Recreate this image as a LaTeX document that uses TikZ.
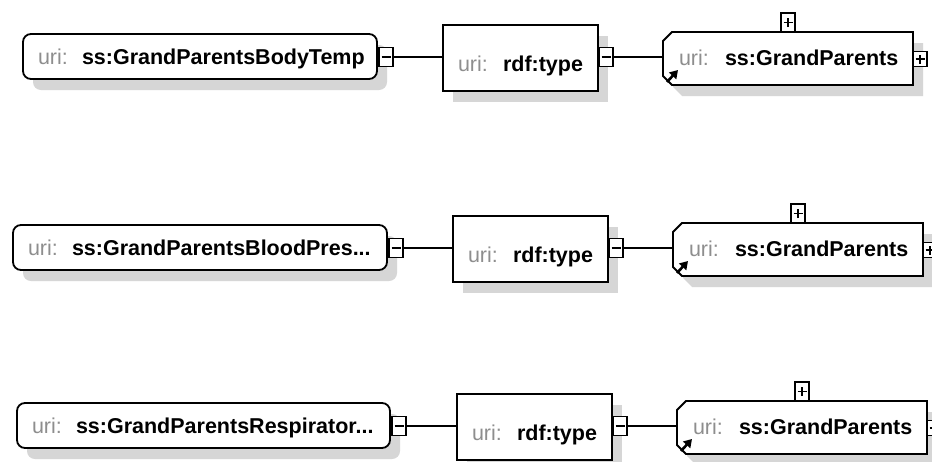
\documentclass[tikz,border=0pt]{standalone}
\usepackage{fontspec}
\setmainfont{Liberation Sans}
\usetikzlibrary{arrows.meta,shadows,calc}
\definecolor{shadowc}{HTML}{D6D6D6}
\definecolor{urigray}{HTML}{8E8E8E}
\tikzset{
  every node/.style={inner sep=0pt,outer sep=0pt},
  boxshadow/.style={drop shadow={shadow xshift=10pt,shadow yshift=-11pt,fill=shadowc,opacity=1}},
  resbox/.style={draw=black,line width=1.8pt,fill=white,rounded corners=8pt,boxshadow,minimum height=45pt},
  propbox/.style={draw=black,line width=1.8pt,fill=white,boxshadow,minimum width=155pt,minimum height=66pt},
  classarea/.style={minimum width=250pt,minimum height=53pt},
  outline/.style={draw=black,line width=1.8pt,fill=white},
  togglebox/.style={draw=black,line width=1.4pt,fill=white,minimum width=14pt,minimum height=19pt},
  minusbox/.style={togglebox,path picture={\draw[line width=1.4pt] ([xshift=-4.5pt]path picture bounding box.center) -- ([xshift=4.5pt]path picture bounding box.center);}},
  plusbox/.style={togglebox,path picture={
     \draw[line width=1.4pt] ([xshift=-4.5pt]path picture bounding box.center) -- ([xshift=4.5pt]path picture bounding box.center);
     \draw[line width=1.4pt] ([yshift=-4.5pt]path picture bounding box.center) -- ([yshift=4.5pt]path picture bounding box.center);}},
  link/.style={draw=black,line width=1.5pt},
  uritxt/.style={anchor=base west,text=urigray,font=\fontsize{21.5}{25}\selectfont},
  idtxt/.style={anchor=base west,text=black,font=\fontsize{21.5}{25}\selectfont\bfseries},
  jump/.style={line width=2.6pt,-{Triangle[length=8pt,width=9.5pt]}},
}
\begin{document}
\begin{tikzpicture}[x=1pt,y=-1pt]
\useasboundingbox (0,0) rectangle (932,461);
\clip (0,0) rectangle (932,461);
\fill[white] (0,0) rectangle (932,461);
\foreach \rw/\cy/\lx/\rx/\px/\gx/\txt in {1/57/23/377/443/663/{ss:GrandParentsBodyTemp},2/248/13/387/453/673/{ss:GrandParentsBloodPres...},3/426/17/390/457/677/{ss:GrandParentsRespirator...}}{
  % resource node
  \node[resbox,minimum width={(\rx-\lx)*1pt}] (a\rw) at ({(\lx+\rx)/2},\cy-0.5) {};
  \node[uritxt] (au\rw) at (\lx+15,\cy+7.5) {uri:};
  \node[idtxt] (an\rw) at (\lx+59,\cy+7.5) {\txt};
  \node[minusbox,anchor=west] (am\rw) at (\rx+2,\cy) {};
  % property node
  \node[propbox] (b\rw) at (\px+77.5,\cy+1) {};
  \node[uritxt] (bu\rw) at (\px+15,\cy+14) {uri:};
  \node[idtxt] (bn\rw) at (\px+60,\cy+14) {rdf:type};
  \node[minusbox,anchor=west] (bm\rw) at (\px+156,\cy) {};
  % class node
  \node[classarea] (g\rw) at (\gx+125,\cy+1.5) {};
  \fill[shadowc] ($(g\rw.north west)+(10,20)$) -- ($(g\rw.north west)+(19,11)$) -- ($(g\rw.north east)+(10,11)$)
     -- ($(g\rw.south east)+(10,11)$) -- ($(g\rw.south west)+(19,11)$) -- ($(g\rw.south west)+(10,2)$) -- cycle;
  \draw[outline] ($(g\rw.north west)+(0,9)$) -- ($(g\rw.north west)+(9,0)$) -- (g\rw.north east)
     -- (g\rw.south east) -- ($(g\rw.south west)+(9,0)$) -- ($(g\rw.south west)+(0,-9)$) -- cycle;
  \node[uritxt] (gu\rw) at (\gx+16,\cy+8) {uri:};
  \node[idtxt] (gn\rw) at (\gx+62,\cy+8) {ss:GrandParents};
  \node[plusbox,anchor=south] (gt\rw) at (g\rw.north) {};
  \node[plusbox,anchor=west,minimum height=15pt] (gr\rw) at (\gx+250,\cy+2) {};
  \coordinate (gs\rw) at ($(g\rw.south west)+(4,-3)$);
  \draw[jump] (gs\rw) -- ++(11,-12);
  % connectors
  \draw[link] (am\rw.east) -- (am\rw.east -| b\rw.west);
  \draw[link] (bm\rw.east) -- (bm\rw.east -| g\rw.west);
}
\end{tikzpicture}
\end{document}
